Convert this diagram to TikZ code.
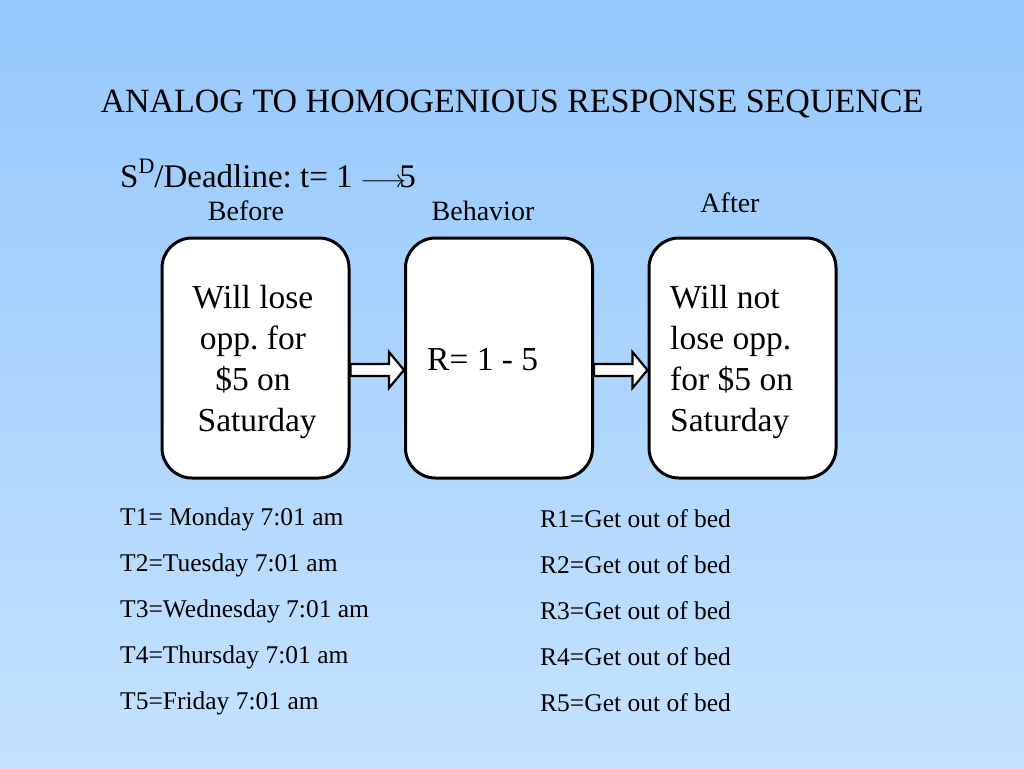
\documentclass[tikz,border=0pt]{standalone}
\usepackage{fontspec}
\usepackage{graphicx}
\setmainfont{Liberation Serif}
\frenchspacing
\usetikzlibrary{calc}
\definecolor{bgtop}{RGB}{150,200,252}
\definecolor{bgbot}{RGB}{196,226,255}
\tikzset{
  box/.style={draw=black, line width=3pt, fill=white, rounded corners=30pt, minimum width=187pt, minimum height=240pt, inner sep=0pt},
  boxtext/.style={font=\fontsize{33.5}{41}\selectfont, inner sep=0pt},
  lbl/.style={font=\fontsize{28}{30}\selectfont, inner sep=0pt},
  row/.style={font=\fontsize{25.5}{28}\selectfont, anchor=west, inner sep=0pt},
  blockarrow/.style={draw=black, line width=2.2pt, fill=white, line join=miter}
}
\begin{document}
\begin{tikzpicture}[x=1pt,y=-1pt]
\shade[top color=bgtop, bottom color=bgbot] (0,0) rectangle (1024,768);
\useasboundingbox (0,0) rectangle (1024,768);

\node[font=\fontsize{34}{38}\selectfont, inner sep=0pt] (title) at (512,104) {ANALOG TO HOMOGENIOUS RESPONSE SEQUENCE};
\node[font=\fontsize{33}{36}\selectfont, anchor=base west, inner sep=0pt] (sd) at (120,187) {S\raisebox{0.42em}{\fontsize{22}{24}\selectfont D}/Deadline: t= 1\,\kern2pt\scalebox{1.15}[1]{$\longrightarrow$}\kern-7pt5};

\node[lbl] (before) at (246,211) {Before};
\node[lbl] (behav) at (483,211) {Behavior};
\node[lbl] (after) at (730,203) {After};

\node[box] (b1) at (255.5,358) {};
\node[box] (b2) at (499,358) {};
\node[box] (b3) at (742.5,358) {};

\node[boxtext, align=center] (t1) at (253,362) {Will lose\\opp. for\\\$5 on\\\ Saturday};
\node[boxtext, anchor=west] (t2) at (427,360) {R= 1 - 5};
\node[boxtext, align=left, anchor=west] (t3) at (670,362) {Will not\\lose opp.\\for \$5 on\\Saturday};

\foreach \a/\b in {b1/b2, b2/b3}{
  \draw[blockarrow]
    ($(\a.east)+(0,6)$) -- ($(\b.west)+(-15,6)$) -- ($(\b.west)+(-15,-6)$)
    -- ($(\b.west)+(0,12)$) -- ($(\b.west)+(-15,30)$) -- ($(\b.west)+(-15,18)$)
    -- ($(\a.east)+(0,18)$) -- cycle;
}

\node[row] (l1) at (120,519) {T1= Monday 7:01 am};
\node[row] (l2) at (120,565) {T2=Tuesday 7:01 am};
\node[row] (l3) at (120,611) {T3=Wednesday 7:01 am};
\node[row] (l4) at (120,657) {T4=Thursday 7:01 am};
\node[row] (l5) at (120,703) {T5=Friday 7:01 am};
\node[row] (r1) at (540,519) {R1=Get out of bed};
\node[row] (r2) at (540,565) {R2=Get out of bed};
\node[row] (r3) at (540,611) {R3=Get out of bed};
\node[row] (r4) at (540,657) {R4=Get out of bed};
\node[row] (r5) at (540,703) {R5=Get out of bed};
\end{tikzpicture}
\end{document}
